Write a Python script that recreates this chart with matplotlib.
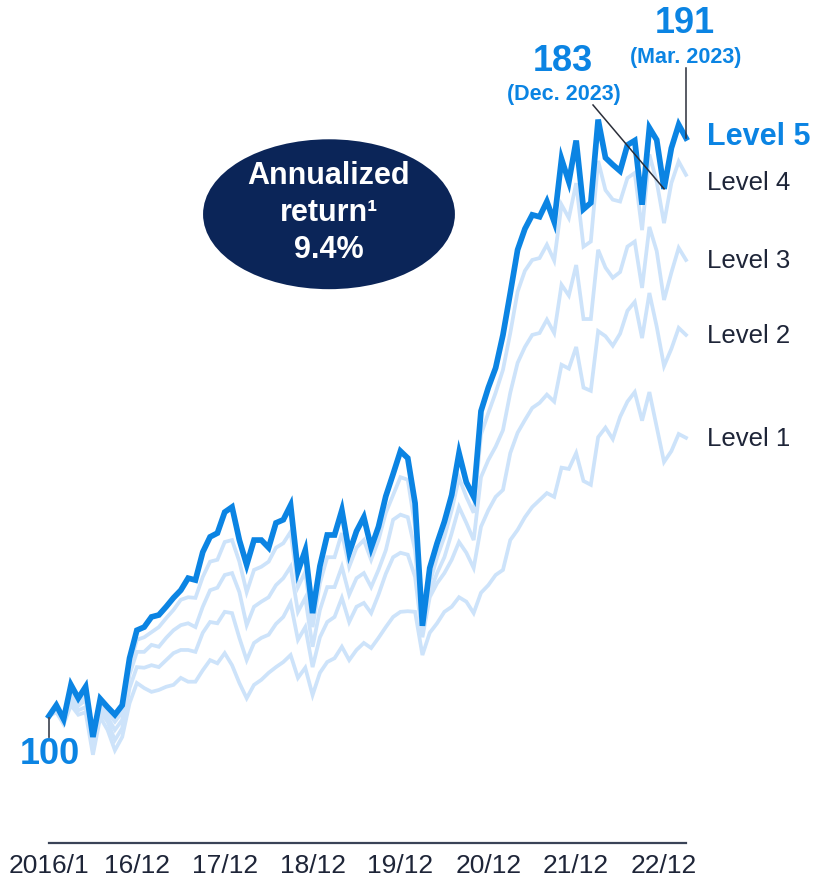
import numpy as np
import matplotlib.pyplot as plt
from matplotlib.patches import Ellipse

# Index of monthly portfolio values (Dec 2015 = 100) through Mar 2023
level5 = [100.0, 101.7, 99.5, 104.9, 102.8, 104.6, 96.7, 102.7, 101.4, 100.2,
          101.7, 109.1, 113.5, 114.0, 115.6, 115.9, 117.2, 118.6, 119.8, 121.7,
          121.4, 125.8, 128.2, 128.8, 132.1, 132.9, 127.7, 123.8, 127.7, 127.7,
          126.5, 130.4, 130.9, 133.2, 122.8, 126.1, 116.2, 123.6, 128.5, 128.5,
          132.4, 125.7, 129.1, 131.3, 126.5, 129.8, 134.6, 138.1, 141.7, 140.6,
          133.5, 114.2, 123.3, 127.2, 130.6, 134.8, 141.4, 136.8, 134.5, 148.0,
          151.7, 154.8, 160.0, 166.6, 173.4, 176.7, 178.9, 178.6, 181.0, 177.8,
          187.7, 184.1, 190.6, 179.8, 180.8, 193.9, 187.9, 186.8, 185.8, 189.9,
          190.6, 180.5, 192.6, 190.7, 183.0, 189.4, 193.1, 191.0]
level4 = [100.0, 101.3, 99.4, 104.1, 102.2, 103.3, 96.2, 102.0, 100.6, 99.1,
          100.6, 107.9, 112.0, 112.4, 113.2, 114.0, 115.4, 116.7, 118.3, 118.7,
          118.6, 121.9, 124.3, 124.6, 127.4, 127.7, 124.3, 119.5, 123.0, 123.5,
          124.3, 126.5, 127.2, 129.0, 120.3, 122.7, 114.0, 120.9, 125.0, 125.0,
          128.8, 123.5, 126.5, 127.7, 124.6, 127.7, 132.0, 134.8, 137.6, 137.2,
          129.8, 113.5, 120.9, 125.0, 128.2, 132.4, 137.5, 134.5, 132.0, 144.3,
          147.7, 150.9, 154.5, 160.3, 166.8, 170.1, 171.8, 172.1, 174.2, 171.7,
          180.5, 178.4, 183.9, 173.9, 174.7, 187.4, 182.8, 181.3, 181.0, 184.7,
          185.5, 176.5, 188.4, 184.1, 177.6, 183.9, 187.3, 185.2]
level3 = [100.0, 101.1, 99.2, 103.3, 101.6, 102.5, 95.4, 101.3, 99.8, 97.8,
          99.4, 106.5, 110.1, 110.1, 111.2, 110.9, 112.3, 113.5, 114.3, 114.6,
          114.0, 117.2, 119.8, 120.2, 122.2, 122.5, 119.5, 114.3, 117.2, 118.0,
          118.7, 120.6, 121.7, 123.5, 116.4, 118.6, 110.9, 116.7, 120.3, 120.3,
          123.5, 119.1, 121.7, 122.5, 120.3, 123.0, 126.1, 130.9, 131.7, 131.3,
          126.1, 113.1, 119.4, 122.5, 125.0, 128.8, 132.9, 130.4, 127.7, 137.6,
          140.3, 142.4, 145.0, 150.9, 155.6, 158.1, 160.0, 160.3, 162.4, 160.3,
          167.9, 166.2, 171.0, 162.5, 162.5, 173.4, 170.6, 169.0, 169.9, 173.9,
          174.7, 167.4, 177.0, 173.2, 165.5, 169.8, 173.7, 171.8]
level2 = [100.0, 100.9, 99.1, 102.5, 100.9, 101.4, 94.6, 100.6, 99.1, 96.2,
          98.1, 104.4, 107.7, 107.6, 108.0, 107.7, 108.8, 109.9, 110.4, 110.4,
          110.1, 113.1, 114.8, 114.6, 116.4, 116.2, 112.3, 108.8, 111.5, 112.3,
          112.8, 114.5, 115.6, 117.8, 112.0, 114.0, 107.7, 112.4, 114.8, 115.6,
          118.6, 114.8, 117.2, 117.8, 116.2, 119.1, 122.4, 125.0, 125.7, 125.4,
          121.9, 112.4, 118.7, 120.9, 122.5, 124.6, 127.4, 125.7, 123.3, 129.8,
          132.4, 134.5, 135.6, 141.4, 144.6, 146.6, 148.5, 149.3, 150.6, 149.5,
          155.3, 154.7, 158.1, 151.7, 151.2, 160.6, 159.8, 158.3, 160.2, 163.8,
          165.2, 159.5, 166.6, 161.3, 155.1, 157.8, 161.1, 160.0]
level1 = [100.0, 100.6, 98.7, 101.7, 100.2, 100.6, 93.9, 99.8, 97.8, 94.6,
          96.7, 102.0, 105.2, 104.4, 103.8, 104.1, 104.6, 104.9, 106.0, 105.4,
          105.4, 107.2, 108.8, 108.3, 109.9, 108.0, 105.2, 102.8, 104.9, 105.7,
          106.8, 107.7, 108.5, 109.6, 106.0, 107.6, 103.3, 106.8, 108.5, 109.1,
          110.9, 108.8, 110.4, 111.5, 110.7, 112.3, 114.0, 115.6, 116.4, 116.5,
          116.4, 109.6, 113.1, 114.6, 116.4, 117.2, 118.7, 118.0, 116.2, 119.4,
          120.6, 122.2, 123.0, 127.7, 129.3, 131.3, 132.9, 134.0, 135.1, 134.5,
          139.1, 138.9, 141.4, 137.0, 136.4, 143.9, 145.4, 143.6, 147.1, 149.5,
          151.0, 146.5, 151.0, 145.5, 140.0, 141.7, 144.4, 143.8]

series_names = ["Level 1", "Level 2", "Level 3", "Level 4", "Level 5"]
tick_labels = ["2016/1", "16/12", "17/12", "18/12", "19/12", "20/12", "21/12", "22/12"]
tick_months = [0, 12, 24, 36, 48, 60, 72, 84]
annualized_return = "9.4%"

BLUE = "#0B84E3"
LIGHT = "#CDE3FA"
NAVY = "#0B2558"
INK = "#1E2538"
FONT = ["Liberation Sans", "DejaVu Sans"]
NARROW = ["Liberation Sans Narrow", "Liberation Sans", "DejaVu Sans"]

months = np.arange(len(level5))

fig = plt.figure(figsize=(8.32, 8.84), dpi=100)
ax = fig.add_axes([0, 0, 1, 1])
ax.set_xlim(-6.692, 106.94)
ax.set_ylim(73.55, 212.73)

# Lower levels in pale blue, the top level drawn bold on top
for vals in [level1, level2, level3, level4]:
    ax.plot(months, vals, color=LIGHT, lw=2.7, solid_joinstyle="miter", zorder=2)
ax.plot(months, level5, color=BLUE, lw=4.1, solid_joinstyle="miter", zorder=3)

# Baseline axis with date labels
for side in ["top", "left", "right"]:
    ax.spines[side].set_visible(False)
ax.spines["bottom"].set_position(("data", 80))
ax.spines["bottom"].set_bounds(0, 87)
ax.spines["bottom"].set_color("#3A4357")
ax.spines["bottom"].set_linewidth(1.6)
ax.set_yticks([])
ax.set_xticks(tick_months)
ax.set_xticklabels(tick_labels, family=NARROW, fontsize=19, color=INK)
ax.tick_params(axis="x", length=0, pad=8)

# Right-hand series labels
label_y = [143.6, 159.8, 171.6, 183.9, 191.2]
for name, y in zip(series_names, label_y):
    if name == "Level 5":
        ax.text(89.9, y, name, family=FONT, fontsize=22, fontweight="bold",
                color=BLUE, va="center", ha="left")
    else:
        ax.text(89.9, y, name, family=FONT, fontsize=18.5, color=INK,
                va="center", ha="left")

# Start value
ax.plot([0, 0], [99.7, 96.7], color="#4A4F5C", lw=1.3, zorder=4)
ax.text(0.1, 94.0, f"{level5[0]:.0f}", family=FONT, fontsize=26, fontweight="bold",
        color=BLUE, ha="center", va="center")

# Callouts for Dec 2022 and the latest value
i_dec = 84
ax.plot([74.3, i_dec], [196.2, level5[i_dec]], color="#2B2F3A", lw=1.1, zorder=4)
ax.text(70.2, 203.0, f"{level5[i_dec]:.0f}", family=FONT, fontsize=26,
        fontweight="bold", color=BLUE, ha="center", va="center")
ax.text(70.3, 197.8, "(Dec. 2023)", family=FONT, fontsize=15.5,
        fontweight="bold", color=BLUE, ha="center", va="center")

i_last = len(level5) - 1
ax.plot([i_last, i_last], [202.0, level5[i_last]], color="#2B2F3A", lw=1.1, zorder=4)
ax.text(86.9, 209.1, f"{level5[i_last]:.0f}", family=FONT, fontsize=26,
        fontweight="bold", color=BLUE, ha="center", va="center")
ax.text(87.0, 203.75, "(Mar. 2023)", family=FONT, fontsize=15.5,
        fontweight="bold", color=BLUE, ha="center", va="center")

# Annualized return badge
ax.add_patch(Ellipse((38.24, 179.0), 34.4, 23.6, facecolor=NAVY,
                     edgecolor="none", zorder=5))
ax.text(38.24, 179.2, "Annualized\nreturn\u00b9\n" + annualized_return,
        family=FONT, fontsize=22, fontweight="bold", color="white",
        ha="center", va="center", linespacing=1.32, zorder=6)

fig.savefig("out.png", dpi=100)
